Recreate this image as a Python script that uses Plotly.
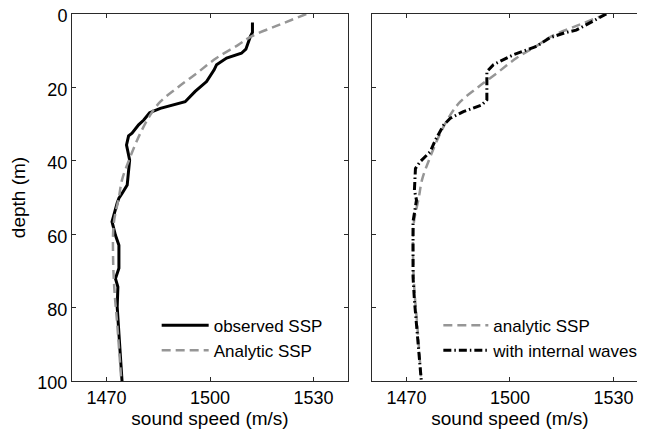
import plotly.graph_objects as go

# Observed SSP (left panel, black solid)
obs_speed = [1512.3, 1512.3, 1511.7, 1510.4, 1509.1, 1504.8, 1501.9, 1501.2, 1499.0, 1495.7,
             1492.8, 1489.4, 1485.6, 1482.5, 1480.8, 1479.3, 1477.4, 1476.4, 1475.8, 1476.7,
             1476.0, 1474.5, 1473.6, 1473.1, 1471.6, 1472.6, 1473.6, 1473.6, 1472.6, 1473.3,
             1473.1, 1473.6, 1474.5]
obs_depth = [2.3, 5.0, 6.1, 9.6, 10.7, 12.0, 13.8, 15.2, 18.4, 21.1,
             23.9, 24.8, 25.7, 26.9, 28.9, 30.2, 32.5, 33.2, 35.7, 39.8,
             46.6, 48.9, 50.2, 51.5, 56.6, 60.3, 63.0, 69.3, 72.1, 74.4,
             79.8, 87.1, 100.0]

# Analytic SSP (gray dashed, both panels)
ana_speed = [1527.9, 1520.2, 1512.0, 1508.2, 1501.9, 1496.2, 1490.4, 1485.6, 1482.7, 1479.8,
             1476.9, 1474.5, 1473.6, 1472.1, 1471.9, 1472.3, 1473.1, 1474.3]
ana_depth = [0.0, 2.9, 6.1, 8.4, 12.0, 16.1, 20.2, 23.9, 27.5, 32.5,
             38.9, 45.2, 49.9, 57.1, 66.2, 75.3, 84.4, 100.0]

# With internal waves (right panel, black dash-dot)
iw_speed = [1527.9, 1524.0, 1519.2, 1515.9, 1511.5, 1507.7, 1501.0, 1495.2, 1493.3, 1493.3,
            1493.3, 1493.3, 1491.8, 1486.5, 1482.7, 1480.8, 1478.4, 1476.9, 1474.0, 1472.6,
            1472.3, 1472.9, 1471.9, 1471.9, 1471.9, 1472.3, 1473.3, 1474.3]
iw_depth = [0.0, 2.0, 4.4, 5.1, 6.5, 8.8, 11.1, 13.8, 15.7, 17.9,
            20.7, 23.4, 24.8, 26.6, 28.4, 30.2, 34.3, 37.5, 40.2, 42.1,
            48.0, 50.7, 56.6, 61.6, 71.6, 78.0, 88.9, 100.0]

x_ticks = [1470, 1500, 1530]
y_ticks = [0, 20, 40, 60, 80, 100]

GRAY = "rgb(150,150,150)"
FONT = "Liberation Sans, Arial, Helvetica, sans-serif"
AX = "#2a2a2a"

fig = go.Figure()

fig.add_trace(go.Scatter(x=obs_speed, y=obs_depth, mode="lines", name="observed SSP",
                         line=dict(color="black", width=3), xaxis="x", yaxis="y", legend="legend"))
fig.add_trace(go.Scatter(x=ana_speed, y=ana_depth, mode="lines", name="Analytic SSP",
                         line=dict(color=GRAY, width=2.5, dash="9px,5px", shape="spline"),
                         xaxis="x", yaxis="y", legend="legend"))
fig.add_trace(go.Scatter(x=ana_speed, y=ana_depth, mode="lines", name="analytic SSP",
                         line=dict(color=GRAY, width=2.5, dash="9px,5px", shape="spline"),
                         xaxis="x2", yaxis="y2", legend="legend2"))
fig.add_trace(go.Scatter(x=iw_speed, y=iw_depth, mode="lines",
                         name="with internal waves\u00a0\u00a0",
                         line=dict(color="black", width=3, dash="8px,3px,1.5px,3px"),
                         xaxis="x2", yaxis="y2", legend="legend2"))

axis_common = dict(ticks="inside", ticklen=4, tickcolor=AX, linecolor=AX, linewidth=1,
                   showgrid=False, zeroline=False, ticklabeloverflow="allow", automargin=False,
                   tickfont=dict(size=18, color="black"))

fig.update_layout(
    width=670, height=431,
    margin=dict(l=64, r=30, t=6, b=58, autoexpand=False),
    paper_bgcolor="white", plot_bgcolor="white",
    font=dict(family=FONT, color="black"),
    xaxis=dict(domain=[0, 0.4792], range=[1460, 1540], tickvals=x_ticks,
               showline=True, mirror="ticks",
               title=dict(text="sound speed (m/s)", font=dict(size=19), standoff=1),
               **axis_common),
    yaxis=dict(domain=[0, 1], range=[100, 0], tickvals=y_ticks,
               showline=True, mirror="ticks", ticklabelshift=-2,
               title=dict(text="depth (m)", font=dict(size=19), standoff=13),
               **axis_common),
    xaxis2=dict(domain=[0.5208, 1.0], range=[1460, 1540], tickvals=x_ticks, anchor="y2",
                showline=True, mirror="ticks",
                title=dict(text="sound speed (m/s)", font=dict(size=19), standoff=1),
                **axis_common),
    yaxis2=dict(domain=[0, 1], range=[100, 0], tickvals=y_ticks, anchor="x2",
                showline=True, mirror=False, showticklabels=False,
                **axis_common),
    legend=dict(x=0.147, y=0.2, xanchor="left", yanchor="top", bgcolor="rgba(0,0,0,0)",
                font=dict(size=17, color="black"), itemwidth=47, tracegroupgap=0),
    legend2=dict(x=0.636, y=0.2, xanchor="left", yanchor="top", bgcolor="rgba(0,0,0,0)",
                 font=dict(size=17, color="black"), itemwidth=45, tracegroupgap=0),
    showlegend=True,
)

fig.write_html("out.html")
